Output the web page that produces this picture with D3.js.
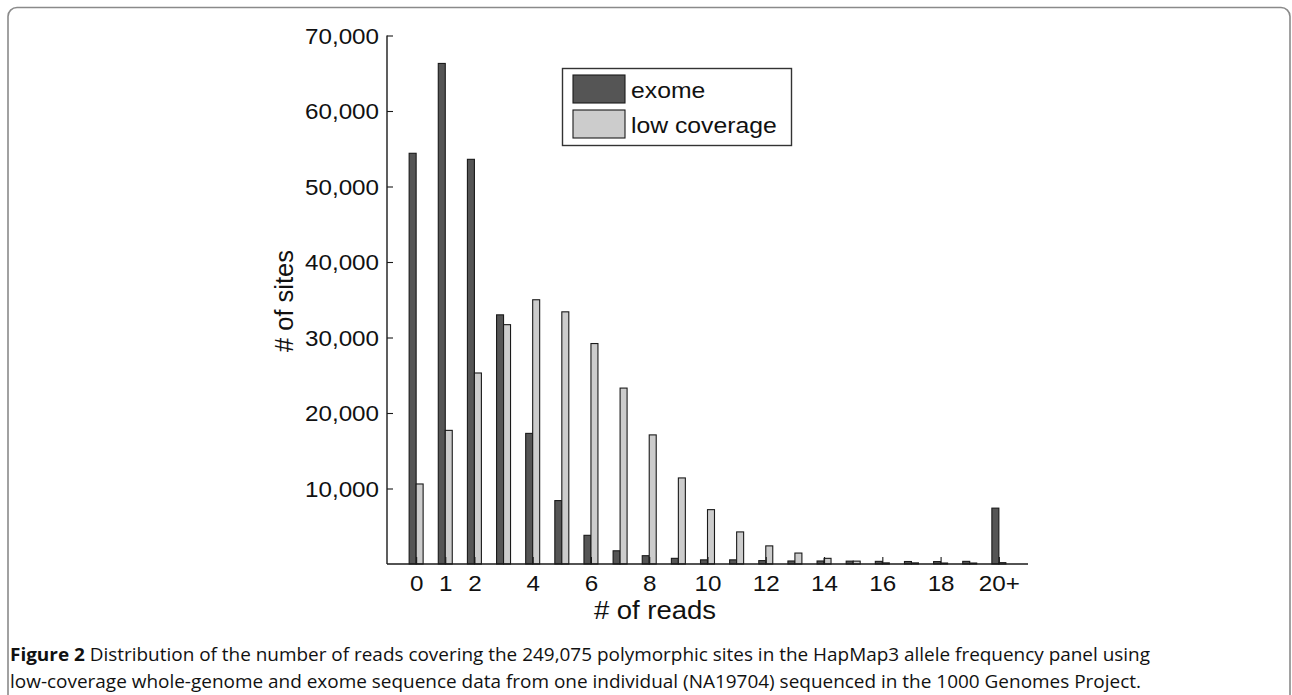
<!DOCTYPE html>
<html>
<head>
<meta charset="utf-8">
<script src="https://cdn.jsdelivr.net/npm/d3@7"></script>
<style>
  html, body { margin: 0; padding: 0; background: #fff; }
  svg { display: block; }
</style>
</head>
<body>
<svg id="chart" width="1292" height="695"></svg>
<script>
// ---- data ----
const categories = [0,1,2,3,4,5,6,7,8,9,10,11,12,13,14,15,16,17,18,19,20];
const tickValues = [0,1,2,4,6,8,10,12,14,16,18,20];
const tickLabels = ["0","1","2","4","6","8","10","12","14","16","18","20+"];
const exome = [54400, 66300, 53600, 33000, 17300, 8400, 3800, 1750, 1100, 750, 550, 550, 450, 400, 400, 380, 350, 330, 320, 350, 7400];
const lowCoverage = [10600, 17700, 25300, 31700, 35000, 33400, 29200, 23300, 17100, 11400, 7200, 4250, 2400, 1450, 750, 380, 150, 150, 130, 130, 180];
const yTicks = [10000, 20000, 30000, 40000, 50000, 60000, 70000];
const seriesNames = ["exome", "low coverage"];
const seriesColors = ["#555555", "#cccccc"];
const captionBold = "Figure 2";
const captionLine1 = " Distribution of the number of reads covering the 249,075 polymorphic sites in the HapMap3 allele frequency panel using";
const captionLine2 = "low-coverage whole-genome and exome sequence data from one individual (NA19704) sequenced in the 1000 Genomes Project.";

const svg = d3.select("#chart");
const font = "'Liberation Sans', Arial, sans-serif";
const stretch = 1.1;

// outer rounded frame
svg.append("rect")
  .attr("x", 8).attr("y", 7.5).attr("width", 1282).attr("height", 720)
  .attr("rx", 9).attr("ry", 9)
  .attr("fill", "none").attr("stroke", "#8a8a8a").attr("stroke-width", 1.6);

const x = d3.scaleLinear().domain([-1, 21]).range([387, 1028]);
const y = d3.scaleLinear().domain([0, 70000]).range([564, 35.5]);
const barW = x(0.24) - x(0);

const g = svg.append("g");

// bars
const series = [exome, lowCoverage];
series.forEach((vals, si) => {
  g.selectAll(".bar" + si)
    .data(categories)
    .enter().append("rect")
    .attr("x", d => si === 0 ? x(d) - barW : x(d))
    .attr("y", (d, i) => y(vals[i]))
    .attr("width", barW)
    .attr("height", (d, i) => y(0) - y(vals[i]))
    .attr("fill", seriesColors[si])
    .attr("stroke", "#1a1a1a")
    .attr("stroke-width", 1.1);
});

// x axis (ticks pointing inward/up)
const xAxis = d3.axisBottom(x)
  .tickValues(tickValues)
  .tickSizeInner(-7).tickSizeOuter(0)
  .tickPadding(18)
  .tickFormat((d, i) => tickLabels[i]);
const xg = svg.append("g").attr("transform", `translate(0,${y(0)})`).call(xAxis);
xg.select(".domain").attr("d", `M${x(-1)},0H${x(21)}`).attr("stroke", "#1a1a1a").attr("stroke-width", 1.4);
xg.selectAll(".tick line").attr("stroke", "#1a1a1a").attr("stroke-width", 1.1);
xg.selectAll(".tick text")
  .attr("font-family", font).attr("font-size", 22).attr("fill", "#111")
  .attr("y", 0).attr("dy", null)
  .attr("transform", `translate(0,27) scale(${stretch},1)`);

// y axis (ticks pointing inward/right)
const yAxis = d3.axisLeft(y)
  .tickValues(yTicks)
  .tickSizeInner(-6).tickSizeOuter(0)
  .tickPadding(9)
  .tickFormat(d3.format(","));
const yg = svg.append("g").attr("transform", `translate(${x(-1)},0)`).call(yAxis);
yg.select(".domain").attr("d", `M0,${y(0)}V${y(70000)}`).attr("stroke", "#1a1a1a").attr("stroke-width", 1.4);
yg.selectAll(".tick line").attr("stroke", "#1a1a1a").attr("stroke-width", 1.1);
yg.selectAll(".tick text")
  .attr("font-family", font).attr("font-size", 22).attr("fill", "#111")
  .attr("x", 0).attr("dy", "0.36em")
  .attr("transform", `translate(-8,0) scale(${stretch},1)`);

// axis titles
svg.append("text")
  .attr("transform", `translate(655,619) scale(${stretch},1)`)
  .attr("text-anchor", "middle")
  .attr("font-family", font).attr("font-size", 25).attr("fill", "#111")
  .text("# of reads");
svg.append("text")
  .attr("transform", "translate(293,301) rotate(-90)")
  .attr("text-anchor", "middle")
  .attr("font-family", font).attr("font-size", 25.5).attr("fill", "#111")
  .text("# of sites");

// legend
const lg = svg.append("g");
lg.append("rect")
  .attr("x", 562.5).attr("y", 68.5).attr("width", 229).attr("height", 77)
  .attr("fill", "#fff").attr("stroke", "#333").attr("stroke-width", 1.4);
seriesNames.forEach((name, i) => {
  const yy = 75 + i * 35;
  lg.append("rect")
    .attr("x", 573).attr("y", yy).attr("width", 52).attr("height", 28)
    .attr("fill", seriesColors[i]).attr("stroke", "#1a1a1a").attr("stroke-width", 1.1);
  lg.append("text")
    .attr("transform", `translate(631,${yy + 23}) scale(${stretch},1)`)
    .attr("font-family", font).attr("font-size", 22.5).attr("fill", "#111")
    .text(name);
});

// caption
const capFont = "'Open Sans', 'Noto Sans', sans-serif";
const c1 = svg.append("text")
  .attr("x", 10).attr("y", 661)
  .attr("font-family", capFont).attr("font-size", 18.5).attr("font-weight", 500).attr("fill", "#111")
  .attr("textLength", 1140).attr("lengthAdjust", "spacingAndGlyphs");
c1.append("tspan").attr("font-weight", "bold").text(captionBold);
c1.append("tspan").text(captionLine1);
svg.append("text")
  .attr("x", 10).attr("y", 688)
  .attr("font-family", capFont).attr("font-size", 18.5).attr("font-weight", 500).attr("fill", "#111")
  .attr("textLength", 1131).attr("lengthAdjust", "spacingAndGlyphs")
  .text(captionLine2);
</script>
</body>
</html>
